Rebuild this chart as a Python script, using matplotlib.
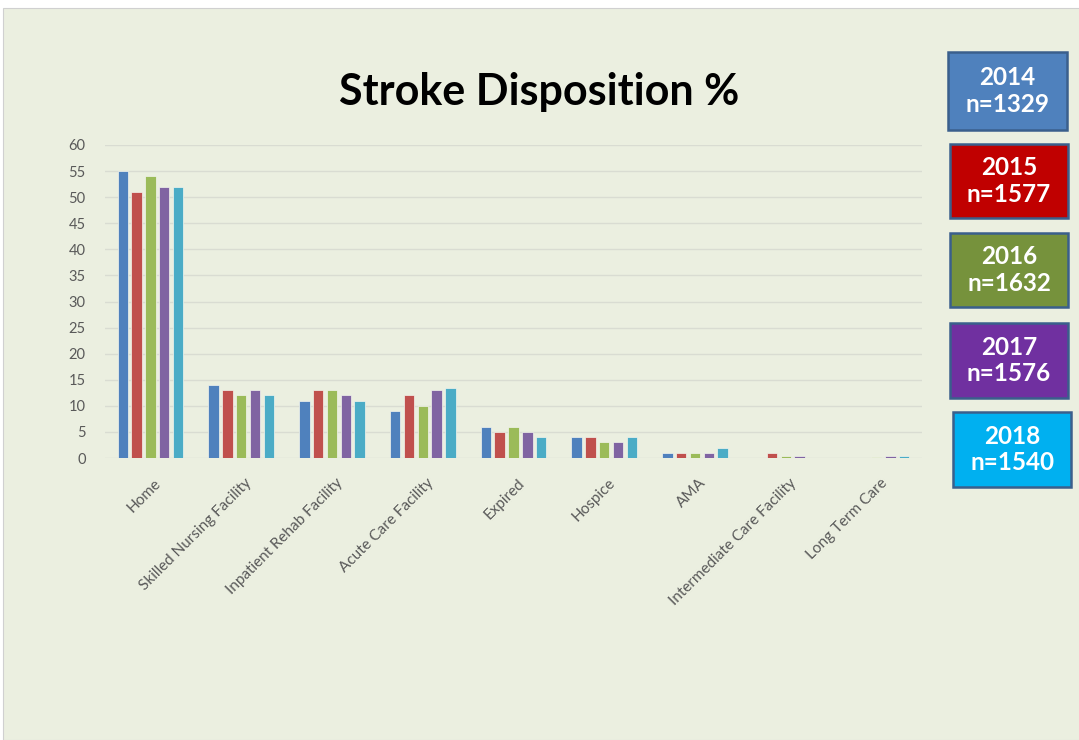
import matplotlib
matplotlib.use('Agg')
import matplotlib.pyplot as plt
from matplotlib.patches import Rectangle
import numpy as np

plt.rcParams['font.family'] = ['Lato', 'DejaVu Sans']

categories = ['Home', 'Skilled Nursing Facility', 'Inpatient Rehab Facility',
              'Acute Care Facility', 'Expired', 'Hospice', 'AMA',
              'Intermediate Care Facility', 'Long Term Care']
years = ['2014', '2015', '2016', '2017', '2018']
counts = ['1329', '1577', '1632', '1576', '1540']
pct_2014 = [55, 14, 11, 9, 6, 4, 1, 0, 0]
pct_2015 = [51, 13, 13, 12, 5, 4, 1, 1, 0]
pct_2016 = [54, 12, 13, 10, 6, 3, 1, 0.4, 0.15]
pct_2017 = [52, 13, 12, 13, 5, 3, 1, 0.4, 0.4]
pct_2018 = [52, 12, 11, 13.5, 4, 4, 2, 0, 0.4]
series = [pct_2014, pct_2015, pct_2016, pct_2017, pct_2018]

bar_colors = ['#4F81BD', '#C0504D', '#9BBB59', '#8064A2', '#4BACC6']
box_colors = ['#4F81BD', '#C00000', '#76923C', '#7030A0', '#00B0F0']
bg = '#EBEFE0'

fig = plt.figure(figsize=(10.79, 7.40), dpi=100)
fig.patch.set_facecolor('white')
fig.patches.append(Rectangle((3 / 1079, 0), 1, 1 - 8 / 740,
                             transform=fig.transFigure, facecolor=bg,
                             edgecolor='#D0D0D0', lw=0.8, zorder=-10))

ax = fig.add_axes([105 / 1079, 1 - 458 / 740, 817 / 1079, 313 / 740])
ax.set_facecolor(bg)
ax.patch.set_alpha(0)

x = np.arange(len(categories))
width = 0.115
pitch = 0.152
for i, vals in enumerate(series):
    ax.bar(x + (i - 2) * pitch, vals, width, color=bar_colors[i],
           edgecolor='#F4F6EE', linewidth=0.5, zorder=3)

ax.set_xlim(-0.5, len(categories) - 0.5)
ax.set_ylim(0, 60)
ax.set_yticks(range(0, 61, 5))
ax.grid(axis='y', color='#D9DCD2', lw=1, zorder=0)
for s in ax.spines.values():
    s.set_visible(False)
ax.tick_params(length=0, colors='#595959')
ax.tick_params(axis='y', pad=14, labelsize=10.5)
ax.set_xticks(x + 0.04)
ax.set_xticklabels(categories, rotation=45, ha='right',
                   rotation_mode='anchor', fontsize=11, color='#595959')
ax.tick_params(axis='x', pad=13)

fig.text(539 / 1079, 1 - 92 / 740, 'Stroke Disposition %', ha='center',
         va='center', fontsize=31, fontweight='bold', color='black')

# year boxes
boxes = [(948, 52, 1067, 130), (950, 144, 1068, 218), (950, 233, 1068, 307),
         (950, 323, 1068, 398), (953, 412, 1071, 487)]
for (x0, y0, x1, y1), yr, n, c in zip(boxes, years, counts, box_colors):
    fig.patches.append(Rectangle((x0 / 1079, 1 - y1 / 740),
                                 (x1 - x0) / 1079, (y1 - y0) / 740,
                                 transform=fig.transFigure, facecolor=c,
                                 edgecolor='#3A5F8C', lw=1.8))
    cx = (x0 + x1) / 2 / 1079
    cy = 1 - (y0 + y1) / 2 / 740
    fig.text(cx, cy, yr + '\nn=' + n, ha='center', va='center',
             fontsize=17.5, fontweight='bold', color='white', linespacing=1.2)

fig.savefig('out.png', dpi=100, facecolor=fig.get_facecolor())
